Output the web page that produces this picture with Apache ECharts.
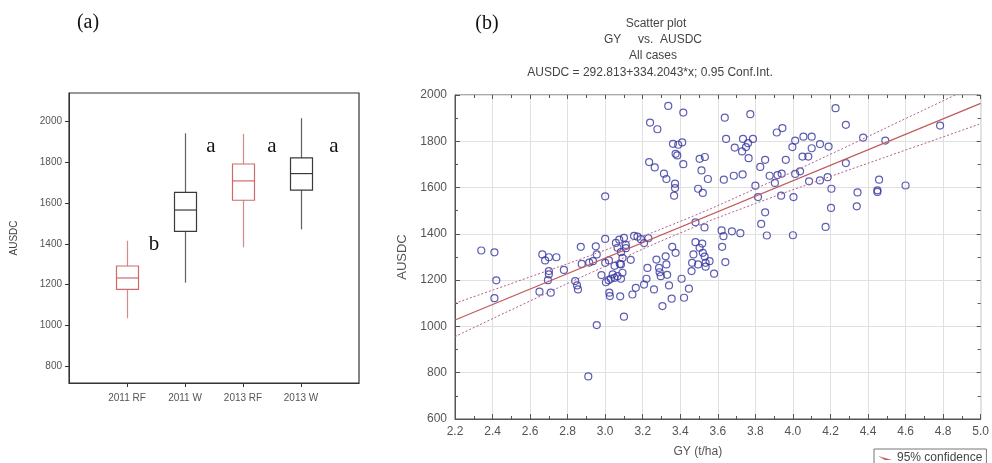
<!DOCTYPE html>
<html><head><meta charset="utf-8">
<script src="https://cdn.jsdelivr.net/npm/echarts@6/dist/echarts.min.js"></script>
<style>html,body{margin:0;padding:0;background:#fff}#c{width:992px;height:463px}</style>
</head><body><div id="c"></div>
<script>
// ---------- Panel (a): box plot ----------
const boxCategories = ['', '2011 RF', '2011 W', '2013 RF', '2013 W', ''];
const boxGroups = ['2011 RF', '2011 W', '2013 RF', '2013 W'];
const boxMin = [1034, 1209, 1383, 1471];
const boxQ1 = [1176, 1461, 1614, 1664];
const boxMedian = [1232, 1566, 1709, 1745];
const boxQ3 = [1291, 1653, 1792, 1822];
const boxMax = [1415, 1943, 1940, 2017];
const boxYTicks = [800, 1000, 1200, 1400, 1600, 1800, 2000];
const sigLetters = ['b', 'a', 'a', 'a'];

// ---------- Panel (b): scatter ----------
const gyVals = [
 2.34,2.41,2.42,2.41,2.65,2.665,2.68,2.70,2.74,2.70,2.70,2.695,2.71,2.78,2.84,2.85,2.855,2.87,2.875,2.915,2.935,2.955,2.95,2.955,2.91,
 2.98,3.00,3.00,3.00,3.004,3.018,3.022,3.025,3.03,3.04,3.05,3.057,3.066,3.075,3.084,3.092,3.084,3.092,3.066,3.078,3.08,3.10,3.10,3.084,3.11,3.136,3.11,3.145,3.163,3.154,3.172,3.19,3.02,3.05,
 3.207,3.23,3.207,3.22,3.225,3.26,3.273,3.287,3.29,3.296,3.305,3.322,3.326,3.33,3.34,3.354,3.375,3.357,3.407,3.42,3.446,3.47,3.463,3.46,3.495,3.52,3.535,3.556,3.58,3.481,3.517,3.503,3.53,3.535,3.623,3.64,3.62,3.63,3.675,3.72,3.481,3.529,
 3.336,3.416,3.239,3.278,3.361,3.389,3.41,3.375,3.384,3.416,3.234,3.264,3.313,3.326,3.372,3.372,3.367,3.503,3.531,3.513,3.547,3.495,3.52,
 3.637,3.773,3.644,3.734,3.787,3.761,3.75,3.729,3.69,3.764,3.852,3.826,3.632,3.685,3.732,3.876,3.80,3.814,3.852,3.831,3.861,
 3.904,3.918,3.94,3.914,3.944,3.937,3.962,3.997,4.012,4.056,4.10,4.051,4.082,4.10,4.012,4.038,4.003,4.0,4.086,
 4.227,4.282,4.144,4.19,4.374,4.492,4.784,4.282,4.144,4.185,4.205,4.459,4.344,4.45,4.45,4.60,4.203,4.34,4.174
];
const ausdcVals = [
 1328,1320,1199,1122,1150,1311,1285,1299,1299,1239,1225,1200,1146,1244,1196,1177,1160,1344,1270,1276,1282,1311,1346,1006,784,
 1222,1378,1562,1275,1191,1200,1146,1131,1206,1225,1210,1361,1340,1375,1321,1296,1268,1232,1217,1270,1130,1042,1383,1206,1352,1288,1338,1138,1167,1391,1388,1377,1285,1262,
 1360,1381,1181,1206,1253,1160,1289,1253,1234,1217,1088,1303,1268,1223,1177,1120,1318,1344,1206,1124,1163,1311,1275,1239,1268,1318,1275,1282,1228,1364,1358,1340,1302,1258,1344,1278,1415,1390,1411,1403,1450,1428,
 1953,1924,1881,1852,1789,1785,1795,1746,1739,1701,1710,1687,1660,1637,1617,1598,1565,1724,1732,1674,1637,1595,1577,
 1902,1917,1810,1810,1810,1792,1775,1756,1773,1727,1720,1689,1634,1651,1657,1651,1608,1559,1493,1443,1393,
 1620,1654,1660,1838,1857,1565,1720,1775,1803,1820,1820,1734,1734,1770,1659,1670,1559,1394,1627,
 1943,1871,1788,1777,1816,1803,1868,1706,1631,1645,1595,1634,1579,1588,1581,1609,1512,1519,1430
];
const fitX = [2.2, 5.0];
const fitY = [1028, 1964];
const bandX = [2.2, 2.6, 3.0, 3.4, 3.8, 4.2, 4.6, 5.0];
const bandUpper = [1100, 1214, 1330, 1454, 1595, 1744, 1898, 2052];
const bandLower = [956, 1110, 1260, 1404, 1531, 1648, 1762, 1876];
const titleLines = ['Scatter plot', 'GY     vs.  AUSDC', 'All cases', 'AUSDC = 292.813+334.2043*x; 0.95 Conf.Int.'];

// ---------- styles ----------
const RED = '#d06a6a', BLK = '#3a3a3a';
const boxColor = g => (g.indexOf('RF') >= 0 ? RED : BLK);
const sans = 'Liberation Sans, Arial, sans-serif';
const serif = 'Liberation Serif, Times New Roman, serif';

const boxRows = boxGroups.map((g, i) => [g, boxMin[i], boxQ1[i], boxMedian[i], boxQ3[i], boxMax[i]]);
const scatterData = gyVals.map((x, i) => [x, ausdcVals[i]]);
const fitData = fitX.map((x, i) => [x, fitY[i]]);
const upData = bandX.map((x, i) => [x, bandUpper[i]]);
const loData = bandX.map((x, i) => [x, bandLower[i]]);

function renderBox(params, api) {
  const x = api.value(0);
  const pMin = api.coord([x, api.value(1)]);
  const pQ1 = api.coord([x, api.value(2)]);
  const pMed = api.coord([x, api.value(3)]);
  const pQ3 = api.coord([x, api.value(4)]);
  const pMax = api.coord([x, api.value(5)]);
  const w = 22;
  const c = boxColor(boxGroups[params.dataIndex]);
  const cx = Math.round(pMed[0]) + 0.5;
  return {
    type: 'group',
    children: [
      {type: 'line', shape: {x1: cx, y1: pMin[1], x2: cx, y2: pQ1[1]}, style: {stroke: c, lineWidth: 1.2, opacity: 0.8}},
      {type: 'line', shape: {x1: cx, y1: pQ3[1], x2: cx, y2: pMax[1]}, style: {stroke: c, lineWidth: 1.2, opacity: 0.8}},
      {type: 'rect', shape: {x: cx - w / 2, y: pQ3[1], width: w, height: pQ1[1] - pQ3[1]}, style: {fill: 'none', stroke: c, lineWidth: 1.2}},
      {type: 'line', shape: {x1: cx - w / 2, y1: pMed[1], x2: cx + w / 2, y2: pMed[1]}, style: {stroke: c, lineWidth: 1.2}}
    ]
  };
}

const axisText = {color: '#555', fontFamily: sans};
const minorLine = {show: true, splitNumber: 2, length: 3, lineStyle: {color: '#555'}};
const plain = v => String(v);

const option = {
  animation: false,
  backgroundColor: '#fff',
  grid: [
    {left: 69, top: 93, width: 290, height: 290, show: true, borderColor: '#333', borderWidth: 1.2, backgroundColor: 'transparent'},
    {left: 455, top: 95, width: 527, height: 325, show: true, borderColor: '#555', borderWidth: 1, backgroundColor: 'transparent'}
  ],
  xAxis: [
    {gridIndex: 0, type: 'category', data: boxCategories, boundaryGap: false,
     axisLine: {lineStyle: {color: '#333'}},
     axisTick: {show: true, length: 4, interval: (i, v) => v !== '', lineStyle: {color: '#333'}},
     axisLabel: {interval: (i, v) => v !== '', fontSize: 10, margin: 10, ...axisText},
     splitLine: {show: false}},
    {gridIndex: 1, type: 'value', min: 2.2, max: 5.0, interval: 0.2,
     axisLine: {onZero: false, lineStyle: {color: '#555'}},
     axisTick: {inside: true, length: 5, lineStyle: {color: '#555'}},
     minorTick: minorLine,
     axisLabel: {fontSize: 12, margin: 7, formatter: v => v.toFixed(1), ...axisText},
     splitLine: {show: true, lineStyle: {color: '#e0e0e0'}},
     name: 'GY (t/ha)', nameLocation: 'middle', nameGap: 27,
     nameTextStyle: {fontSize: 12, color: '#555', fontFamily: sans, padding: [0, 40, 0, 0]}},
    {gridIndex: 1, type: 'value', position: 'top', min: 2.2, max: 5.0, interval: 0.2,
     axisLine: {show: false}, axisTick: {inside: true, length: 4, lineStyle: {color: '#555'}},
     minorTick: minorLine, axisLabel: {show: false}, splitLine: {show: false}}
  ],
  yAxis: [
    {gridIndex: 0, type: 'value', min: 716, max: 2141,
     axisLine: {show: true, lineStyle: {color: '#333'}},
     axisTick: {show: true, length: 4, customValues: boxYTicks, lineStyle: {color: '#333'}},
     axisLabel: {fontSize: 10, margin: 7, customValues: boxYTicks, formatter: plain, ...axisText},
     splitLine: {show: false},
     name: 'AUSDC', nameLocation: 'middle', nameGap: 50,
     nameTextStyle: {fontSize: 10, color: '#444', fontFamily: sans}},
    {gridIndex: 1, type: 'value', min: 600, max: 2000, interval: 200,
     axisLine: {onZero: false, lineStyle: {color: '#555'}},
     axisTick: {inside: true, length: 5, lineStyle: {color: '#555'}},
     minorTick: minorLine,
     axisLabel: {fontSize: 12, margin: 8, formatter: plain, ...axisText},
     splitLine: {show: true, lineStyle: {color: '#e0e0e0'}},
     name: 'AUSDC', nameLocation: 'middle', nameGap: 38,
     nameTextStyle: {fontSize: 13, color: '#555', fontFamily: sans}},
    {gridIndex: 1, type: 'value', position: 'right', min: 600, max: 2000, interval: 200,
     axisLine: {show: false}, axisTick: {inside: true, length: 4, lineStyle: {color: '#555'}},
     minorTick: minorLine, axisLabel: {show: false}, splitLine: {show: false}}
  ],
  legend: {
    left: 874, top: 449, data: [{name: '95% confidence', icon: 'path://M0,0L10,6L20,6'}],
    itemWidth: 14, itemHeight: 8, borderColor: '#777', borderWidth: 1, padding: [3, 4, 3, 4],
    textStyle: {fontSize: 12, color: '#444', fontFamily: sans}, itemGap: 4
  },
  graphic: [
    {type: 'text', x: 88, y: 23, style: {text: '(a)', font: '20px ' + serif, fill: '#111', align: 'center', verticalAlign: 'middle'}},
    {type: 'text', x: 487, y: 24, style: {text: '(b)', font: '20px ' + serif, fill: '#111', align: 'center', verticalAlign: 'middle'}},
    {type: 'text', x: 154, y: 244, style: {text: sigLetters[0], font: '21px ' + serif, fill: '#111', align: 'center', verticalAlign: 'middle'}},
    {type: 'text', x: 211, y: 146, style: {text: sigLetters[1], font: '21px ' + serif, fill: '#111', align: 'center', verticalAlign: 'middle'}},
    {type: 'text', x: 272, y: 146, style: {text: sigLetters[2], font: '21px ' + serif, fill: '#111', align: 'center', verticalAlign: 'middle'}},
    {type: 'text', x: 334, y: 146, style: {text: sigLetters[3], font: '21px ' + serif, fill: '#111', align: 'center', verticalAlign: 'middle'}},
    {type: 'text', x: 656, y: 24, style: {text: titleLines[0], font: '12px ' + sans, fill: '#444', align: 'center', verticalAlign: 'middle'}},
    {type: 'text', x: 653, y: 40, style: {text: titleLines[1], font: '12px ' + sans, fill: '#444', align: 'center', verticalAlign: 'middle'}},
    {type: 'text', x: 653, y: 56, style: {text: titleLines[2], font: '12px ' + sans, fill: '#444', align: 'center', verticalAlign: 'middle'}},
    {type: 'text', x: 650, y: 73, style: {text: titleLines[3], font: '12px ' + sans, fill: '#444', align: 'center', verticalAlign: 'middle'}}
  ],
  series: [
    {type: 'custom', xAxisIndex: 0, yAxisIndex: 0, renderItem: renderBox, data: boxRows, encode: {x: 0, y: [1, 2, 3, 4, 5]}},
    {type: 'line', name: 'upper', xAxisIndex: 1, yAxisIndex: 1, data: upData, smooth: true, showSymbol: false, clip: true,
     lineStyle: {color: '#b0608a', width: 1, type: [2, 2]}},
    {type: 'line', name: 'lower', xAxisIndex: 1, yAxisIndex: 1, data: loData, smooth: true, showSymbol: false, clip: true,
     lineStyle: {color: '#b0608a', width: 1, type: [2, 2]}},
    {type: 'line', name: '95% confidence', xAxisIndex: 1, yAxisIndex: 1, data: fitData, showSymbol: false, symbol: 'circle', clip: true,
     lineStyle: {color: '#c05a5a', width: 1.2}, itemStyle: {color: '#c05a5a'}},
    {type: 'scatter', name: 'points', xAxisIndex: 1, yAxisIndex: 1, data: scatterData, symbol: 'circle', symbolSize: 7,
     itemStyle: {color: 'rgba(255,255,255,0)', borderColor: '#3535a0', borderWidth: 1.2}}
  ]
};
const chart = echarts.init(document.getElementById('c'), null, {renderer: 'canvas'});
chart.setOption(option);
</script></body></html>
